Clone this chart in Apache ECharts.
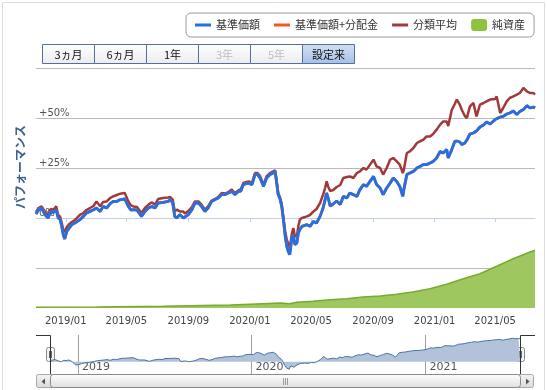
<!DOCTYPE html>
<html><head><meta charset="utf-8">
<script src="https://cdn.jsdelivr.net/npm/echarts@6/dist/echarts.min.js"></script>
<style>html,body{margin:0;padding:0;background:#fff}#c{width:547px;height:390px}</style>
</head><body><div id="c"></div>
<script>
// ---- data ----
const dates = ['2018-11-03','2018-11-08','2018-11-14','2018-11-21','2018-11-27','2018-12-02','2018-12-07','2018-12-13','2018-12-17','2018-12-21',
'2018-12-24','2018-12-27','2018-12-30','2019-01-03','2019-01-08','2019-01-13','2019-01-19','2019-01-29','2019-02-05','2019-02-11',
'2019-02-18','2019-02-25','2019-03-03','2019-03-10','2019-03-16','2019-03-23','2019-03-30','2019-04-05','2019-04-12','2019-04-18',
'2019-04-28','2019-05-05','2019-05-10','2019-05-15','2019-05-22','2019-05-31','2019-06-07','2019-06-14','2019-06-20','2019-06-27',
'2019-07-03','2019-07-13','2019-07-23','2019-07-27','2019-08-01','2019-08-05','2019-08-09','2019-08-15','2019-08-22','2019-08-25',
'2019-09-01','2019-09-08','2019-09-14','2019-09-21','2019-09-27','2019-10-04','2019-10-10','2019-10-17','2019-10-24','2019-10-30',
'2019-11-06','2019-11-13','2019-11-19','2019-11-26','2019-12-02','2019-12-09','2019-12-14','2019-12-19','2019-12-29','2020-01-05',
'2020-01-11','2020-01-16','2020-01-21','2020-01-28','2020-02-03','2020-02-10','2020-02-16','2020-02-20','2020-02-23','2020-02-26',
'2020-03-01','2020-03-04','2020-03-07','2020-03-11','2020-03-14','2020-03-17','2020-03-20','2020-03-24','2020-03-27','2020-03-30',
'2020-04-03','2020-04-06','2020-04-09','2020-04-13','2020-04-16','2020-04-23','2020-04-29','2020-05-06','2020-05-12','2020-05-19',
'2020-05-25','2020-05-29','2020-06-01','2020-06-04','2020-06-08','2020-06-14','2020-06-21','2020-06-28','2020-07-04','2020-07-11',
'2020-07-17','2020-07-24','2020-07-31','2020-08-06','2020-08-13','2020-08-19','2020-08-26','2020-09-02','2020-09-08','2020-09-15',
'2020-09-21','2020-09-28','2020-10-05','2020-10-11','2020-10-18','2020-10-24','2020-10-30','2020-11-01','2020-11-07','2020-11-13',
'2020-11-20','2020-11-27','2020-12-03','2020-12-10','2020-12-16','2020-12-23','2020-12-29','2021-01-05','2021-01-12','2021-01-18',
'2021-01-25','2021-01-28','2021-02-04','2021-02-10','2021-02-14','2021-02-20','2021-02-24','2021-03-02','2021-03-06','2021-03-12',
'2021-03-19','2021-03-25','2021-04-01','2021-04-08','2021-04-14','2021-04-21','2021-04-24','2021-05-01','2021-05-04','2021-05-11',
'2021-05-17','2021-05-24','2021-05-30','2021-06-06','2021-06-13','2021-06-19','2021-06-26','2021-07-03','2021-07-09','2021-07-16',
'2021-07-19'];

// 基準価額 (performance, %)
const navValues = [2.0,4.1,5.0,1.6,0.0,3.3,2.8,4.1,0.0,-0.8,
-4.2,-8.3,-10.5,-6.7,-5.0,-3.3,-2.5,-0.8,0.8,2.5,
3.3,4.1,5.0,3.3,5.8,5.0,7.2,8.3,8.3,9.1,
9.5,5.8,4.0,4.2,4.0,0.8,3.3,5.0,5.8,5.0,
7.5,7.8,8.3,9.2,7.5,0.8,0.0,1.7,0.0,-0.5,
1.7,4.2,7.5,7.5,5.8,3.3,5.0,8.3,9.2,10.0,
11.7,11.7,12.5,13.3,11.7,13.3,13.5,16.7,17.5,16.7,
21.7,21.7,20.0,15.8,20.0,21.7,22.5,23.3,17.5,11.7,
9.2,5.8,0.0,-9.2,-14.2,-16.7,-18.3,-10.0,-8.3,-13.3,
-12.5,-7.5,-5.8,-4.2,-5.0,-3.3,-4.2,-1.7,-2.5,0.8,
5.0,9.2,12.5,10.0,6.0,7.0,8.5,6.7,10.8,10.0,
12.5,11.7,10.8,14.2,16.7,15.8,18.3,20.8,16.7,15.0,
11.7,15.0,17.5,20.0,18.3,15.8,10.8,14.2,21.7,22.5,
23.3,25.0,25.8,26.7,26.7,27.5,28.3,30.0,33.3,32.5,
34.2,30.0,34.2,38.3,38.5,38.0,36.7,37.5,39.0,42.0,
42.5,43.5,45.5,46.5,48.0,47.0,46.7,49.2,49.6,50.5,
50.8,52.0,52.5,53.5,51.7,53.3,54.2,56.2,55.0,55.5,
55.0];

// 基準価額+分配金 (identical to 基準価額 in the picture: hidden beneath it)
const navPlusDist = [2.0,4.1,5.0,1.6,0.0,3.3,2.8,4.1,0.0,-0.8,
-4.2,-8.3,-10.5,-6.7,-5.0,-3.3,-2.5,-0.8,0.8,2.5,
3.3,4.1,5.0,3.3,5.8,5.0,7.2,8.3,8.3,9.1,
9.5,5.8,4.0,4.2,4.0,0.8,3.3,5.0,5.8,5.0,
7.5,7.8,8.3,9.2,7.5,0.8,0.0,1.7,0.0,-0.5,
1.7,4.2,7.5,7.5,5.8,3.3,5.0,8.3,9.2,10.0,
11.7,11.7,12.5,13.3,11.7,13.3,13.5,16.7,17.5,16.7,
21.7,21.7,20.0,15.8,20.0,21.7,22.5,23.3,17.5,11.7,
9.2,5.8,0.0,-9.2,-14.2,-16.7,-18.3,-10.0,-8.3,-13.3,
-12.5,-7.5,-5.8,-4.2,-5.0,-3.3,-4.2,-1.7,-2.5,0.8,
5.0,9.2,12.5,10.0,6.0,7.0,8.5,6.7,10.8,10.0,
12.5,11.7,10.8,14.2,16.7,15.8,18.3,20.8,16.7,15.0,
11.7,15.0,17.5,20.0,18.3,15.8,10.8,14.2,21.7,22.5,
23.3,25.0,25.8,26.7,26.7,27.5,28.3,30.0,33.3,32.5,
34.2,30.0,34.2,38.3,38.5,38.0,36.7,37.5,39.0,42.0,
42.5,43.5,45.5,46.5,48.0,47.0,46.7,49.2,49.6,50.5,
50.8,52.0,52.5,53.5,51.7,53.3,54.2,56.2,55.0,55.5,
55.0];

// 分類平均 (%)
const categoryAvg = [3.0,5.0,5.8,3.0,1.6,4.5,4.0,5.8,1.5,0.5,
-2.5,-5.8,-7.0,-4.5,-3.0,-2.0,-1.0,1.6,2.5,4.0,
5.0,6.0,8.3,5.8,8.0,8.3,10.0,10.8,11.5,12.1,
12.5,8.3,6.3,5.8,5.5,2.5,5.0,6.7,7.8,6.7,
9.5,10.0,10.3,10.5,9.2,3.3,4.2,3.3,3.3,2.2,
3.5,5.5,8.3,8.3,6.7,4.2,5.8,8.7,9.5,10.5,
12.5,12.2,13.0,14.2,12.5,13.8,14.5,17.5,18.3,17.5,
22.5,22.5,21.0,16.7,20.8,22.5,23.3,23.8,18.3,12.5,
10.0,7.0,0.8,-7.0,-10.8,-13.0,-15.0,-8.0,-5.0,-9.0,
-9.2,-4.0,-0.8,0.0,-0.8,0.8,1.5,3.3,4.5,7.5,
11.7,15.0,18.3,15.8,13.5,14.0,15.5,16.5,20.0,20.5,
20.8,20.0,22.5,23.3,25.0,24.2,26.7,29.2,25.8,25.0,
21.7,25.0,29.2,30.0,28.3,26.7,22.5,24.0,32.5,33.3,
35.0,37.5,38.3,39.2,40.8,40.8,42.0,44.2,46.7,48.3,
48.3,46.0,54.0,57.0,59.2,56.7,54.0,51.0,50.0,55.8,
57.5,50.8,56.7,57.5,58.3,59.2,58.5,59.5,60.8,52.5,
55.0,58.3,60.0,60.8,61.7,62.5,65.0,63.3,62.5,62.5,
61.7];

// 純資産 (億円)
const assetDates = ['2018-11-03','2019-03-03','2019-07-13','2019-11-23','2020-01-27','2020-03-01','2020-03-20','2020-04-03','2020-05-05','2020-06-08',
'2020-07-11','2020-08-12','2020-09-15','2020-10-18','2020-11-19','2020-12-23','2021-01-25','2021-02-27','2021-04-01','2021-05-04',
'2021-06-06','2021-07-09','2021-07-19'];
const assetValues = [3.5,5,8.5,15,21.5,25,21.5,28.5,33.5,41.5,
46.5,55,60,68.5,80,96.5,118.5,146.5,171.5,208.5,
246.5,280,288.5];

const xTickDates = ['2019-01-01','2019-05-01','2019-09-01','2020-01-01','2020-05-01','2020-09-01','2021-01-01','2021-05-01'];
const yGridValues = [-25, 0, 25, 50, 75];
const yLabelValues = [0, 25, 50];
const navigatorYears = ['2019-01-01','2020-01-01','2021-01-01'];
const rangeButtons = ['3ヵ月','6ヵ月','1年','3年','5年','設定来'];
const disabledButtons = ['3年','5年'];
const selectedButton = '設定来';
const seriesNames = ['基準価額','基準価額+分配金','分類平均','純資産'];
const yAxisTitle = 'パフォーマンス';
const startDate = '2018-11-03', endDate = '2021-07-19';

// ---- chart ----
const ts = s => Date.parse(s + 'T00:00:00Z');
const zip = (d, v) => d.map((t, i) => [ts(t), v[i]]);
const NUM_FONT = "'DejaVu Sans', 'Noto Sans CJK JP', sans-serif";
const JP_FONT = "'Noto Sans CJK JP', 'DejaVu Sans', sans-serif";
const chart = echarts.init(document.getElementById('c'), null, {renderer: 'canvas'});

const grad = (a, b) => ({type: 'linear', x: 0, y: 0, x2: 0, y2: 1, colorStops: [{offset: 0, color: a}, {offset: 1, color: b}]});

const graphics = [];
graphics.push({type: 'rect', silent: true, z: 0, shape: {x: 2.5, y: 2.5, width: 542, height: 400},
  style: {fill: 'none', stroke: '#dcdcdc', lineWidth: 1}});
const bx0 = 42.5, by0 = 44.5, bw = 52, bh = 19;
rangeButtons.forEach((t, i) => {
  const sel = t === selectedButton, dis = disabledButtons.includes(t);
  graphics.push({type: 'group', x: bx0 + i * bw, y: by0, z: 100, silent: true, children: [
    {type: 'rect', shape: {x: 0, y: 0, width: bw, height: bh},
      style: {fill: sel ? grad('#d3e0f4', '#a8bfe4') : grad('#ffffff', '#ececec'), stroke: '#51709b', lineWidth: 1}},
    {type: 'text', style: {text: t, x: bw / 2, y: bh / 2 + 0.5, align: 'center', verticalAlign: 'middle',
      fill: dis ? '#bdbdbd' : '#111', font: '11px ' + JP_FONT}}
  ]});
});
graphics.push({type: 'text', silent: true, x: 20, y: 167, rotation: Math.PI / 2, z: 100,
  style: {text: yAxisTitle, align: 'center', verticalAlign: 'middle', fill: '#3d6290', font: 'bold 12px ' + JP_FONT}});
graphics.push({type: 'polyline', silent: true, z: 50, shape: {points: [[36, 335.5], [50.5, 335.5], [50.5, 374]]}, style: {stroke: '#333', lineWidth: 1, fill: 'none'}});
graphics.push({type: 'polyline', silent: true, z: 50, shape: {points: [[520.5, 374], [520.5, 335.5], [535, 335.5]]}, style: {stroke: '#333', lineWidth: 1, fill: 'none'}});
[50.5, 520.5].forEach(cx => {
  graphics.push({type: 'group', silent: true, z: 60, x: cx - 4, y: 347.5, children: [
    {type: 'rect', shape: {x: 0, y: 0, width: 8, height: 14, r: 2}, style: {fill: '#f4f4f4', stroke: '#888', lineWidth: 1}},
    {type: 'line', shape: {x1: 3, y1: 3.5, x2: 3, y2: 10.5}, style: {stroke: '#666', lineWidth: 1}},
    {type: 'line', shape: {x1: 5, y1: 3.5, x2: 5, y2: 10.5}, style: {stroke: '#666', lineWidth: 1}}
  ]});
});
graphics.push({type: 'rect', silent: true, z: 50, shape: {x: 36.5, y: 374.5, width: 497, height: 13, r: 2},
  style: {fill: grad('#f4f4f4', '#dadada'), stroke: '#a8a8a8', lineWidth: 1}});
graphics.push({type: 'rect', silent: true, z: 51, shape: {x: 50.5, y: 374.5, width: 470, height: 13, r: 3},
  style: {fill: grad('#ffffff', '#dedede'), stroke: '#8a8a8a', lineWidth: 1}});
graphics.push({type: 'polygon', silent: true, z: 52, shape: {points: [[45, 378.5], [45, 384.5], [41.5, 381.5]]}, style: {fill: '#555'}});
graphics.push({type: 'polygon', silent: true, z: 52, shape: {points: [[526, 378.5], [526, 384.5], [529.5, 381.5]]}, style: {fill: '#555'}});
[283.5, 285.5, 287.5].forEach(gx => graphics.push({type: 'line', silent: true, z: 52,
  shape: {x1: gx, y1: 378, x2: gx, y2: 385}, style: {stroke: '#999', lineWidth: 1}}));

const fmtYM = v => { const d = new Date(v); return d.getUTCFullYear() + '/' + String(d.getUTCMonth() + 1).padStart(2, '0'); };
const fmtY = v => String(new Date(v).getUTCFullYear());

const option = {
  animation: false,
  backgroundColor: '#fff',
  legend: {
    data: [
      {name: seriesNames[0], icon: 'path://M0,0H16V3H0Z'},
      {name: seriesNames[1], icon: 'path://M0,0H16V3H0Z'},
      {name: seriesNames[2], icon: 'path://M0,0H16V3H0Z'},
      {name: seriesNames[3], icon: 'roundRect'}
    ],
    left: 186, top: 13, padding: [6, 9], itemGap: 14, itemWidth: 16, itemHeight: 12,
    borderColor: '#9a9a9a', borderWidth: 1, borderRadius: 5, selectedMode: false,
    textStyle: {fontSize: 11, color: '#333', fontFamily: JP_FONT}
  },
  graphic: graphics,
  grid: [
    {left: 36, right: 12, top: 68, bottom: 82},
    {left: 50, right: 27, top: 335, height: 39}
  ],
  xAxis: [
    {type: 'value', gridIndex: 0, min: ts(startDate), max: ts(endDate), offset: 3,
      axisLine: {show: true, lineStyle: {color: '#c2d0df', width: 1}},
      axisTick: {show: true, length: 4, lineStyle: {color: '#c2d0df'}, customValues: xTickDates.map(ts)},
      axisLabel: {customValues: xTickDates.map(ts), formatter: fmtYM, fontSize: 10, color: '#444', fontFamily: NUM_FONT, margin: 5, hideOverlap: false},
      splitLine: {show: false}},
    {type: 'value', gridIndex: 1, min: ts(startDate), max: ts(endDate),
      axisLine: {show: false},
      axisTick: {show: false, customValues: navigatorYears.map(ts)},
      axisLabel: {customValues: navigatorYears.map(ts), inside: true, formatter: fmtY,
        align: 'left', padding: [0, 0, 0, 4], margin: 1, fontSize: 11, color: '#555', fontFamily: NUM_FONT},
      splitLine: {show: true, lineStyle: {color: '#a0a0a0', width: 1}}}
  ],
  yAxis: [
    {type: 'value', gridIndex: 0, min: -45, max: 75,
      axisLine: {show: false},
      axisTick: {show: false, customValues: yGridValues},
      axisLabel: {customValues: yLabelValues, inside: true, margin: 3, verticalAlign: 'bottom',
        formatter: v => (v > 0 ? '+' : '') + v + '%', fontSize: 10, color: '#555', fontFamily: NUM_FONT},
      splitLine: {show: true, lineStyle: {color: '#b9b9b9', width: 1}}},
    {type: 'value', gridIndex: 0, min: 0, max: 1200, show: false, splitLine: {show: false}},
    {type: 'value', gridIndex: 1, min: -29.5, max: 64, show: false, splitLine: {show: false}}
  ],
  series: [
    {name: seriesNames[3], type: 'line', xAxisIndex: 0, yAxisIndex: 1, data: zip(assetDates, assetValues),
      symbol: 'none', z: 1, color: '#8cc43f',
      lineStyle: {color: '#76ab2c', width: 1.5}, areaStyle: {color: '#9fc75f', opacity: 1}},
    {name: seriesNames[2], type: 'line', xAxisIndex: 0, yAxisIndex: 0, data: zip(dates, categoryAvg),
      symbol: 'none', z: 2, color: '#a23838', lineStyle: {color: '#a23838', width: 2.5}},
    {name: seriesNames[1], type: 'line', xAxisIndex: 0, yAxisIndex: 0, data: zip(dates, navPlusDist),
      symbol: 'none', z: 3, color: '#f05a22', lineStyle: {color: '#f05a22', width: 2.8}},
    {name: seriesNames[0], type: 'line', xAxisIndex: 0, yAxisIndex: 0, data: zip(dates, navValues),
      symbol: 'none', z: 4, color: '#2170e6', lineStyle: {color: '#2170e6', width: 2.8}},
    {name: 'navigator', type: 'line', xAxisIndex: 1, yAxisIndex: 2, data: zip(dates, navValues),
      symbol: 'none', z: 2, color: '#4a72a8', lineStyle: {color: '#4a72a8', width: 1}, areaStyle: {color: '#b2c2d9', opacity: 1}}
  ]
};
chart.setOption(option);
</script>
</body></html>
